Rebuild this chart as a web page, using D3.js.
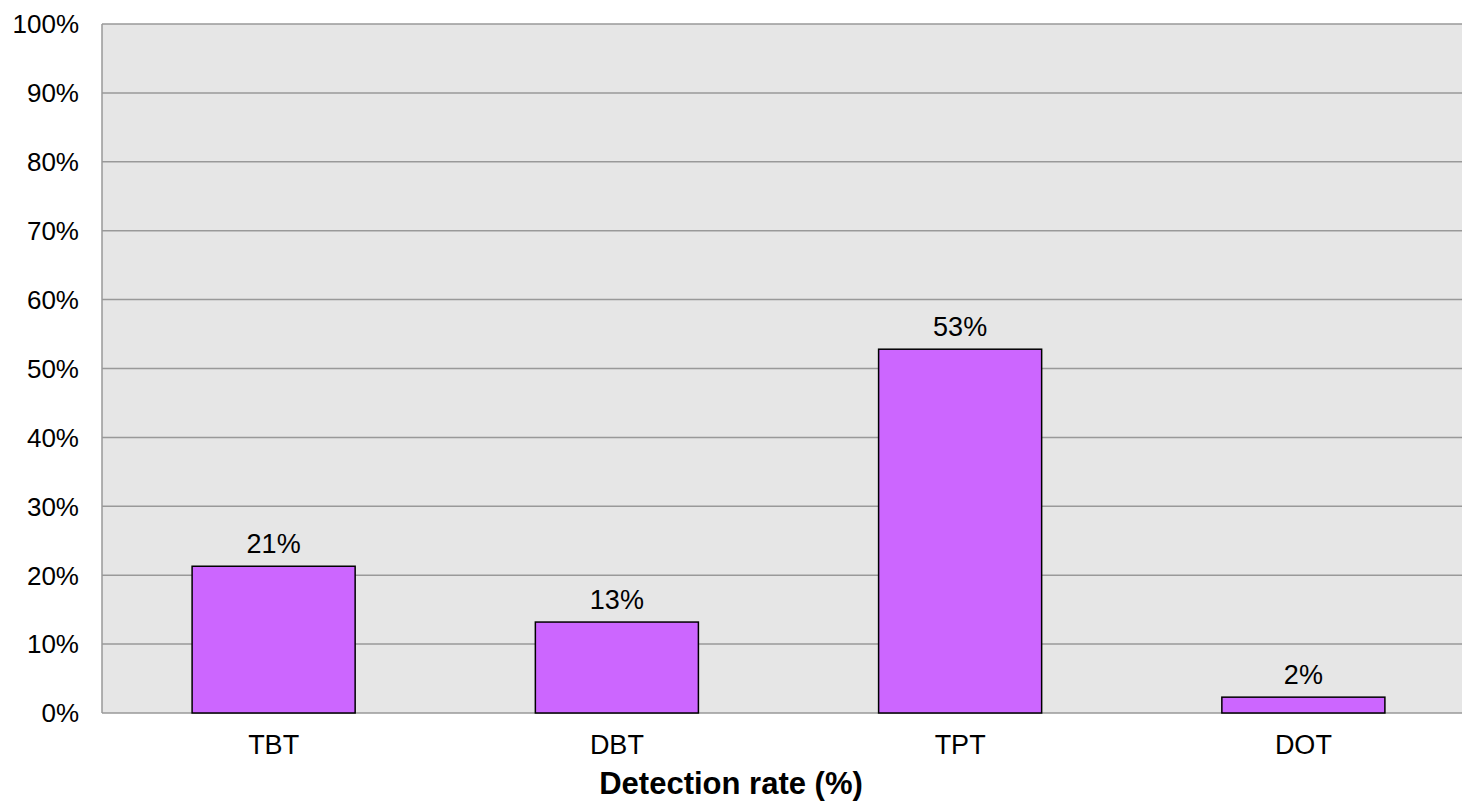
<!DOCTYPE html>
<html>
<head>
<meta charset="utf-8">
<script src="https://cdn.jsdelivr.net/npm/d3@7"></script>
<style>
  body { margin: 0; background: #fff; }
  text { font-family: "Liberation Sans", Arial, sans-serif; fill: #000; }
</style>
</head>
<body>
<div id="container"></div>
<script>
const width = 1462, height = 803;
const margin = {top: 24, right: 0, bottom: 90, left: 102};

const categories = ['TBT', 'DBT', 'TPT', 'DOT'];
const values = [21.3, 13.2, 52.8, 2.3];
const labels = ['21%', '13%', '53%', '2%'];
const yTicks = [0, 10, 20, 30, 40, 50, 60, 70, 80, 90, 100];

const svg = d3.select('#container').append('svg')
    .attr('width', width)
    .attr('height', height);

// the category band runs a bit past the right edge of the picture
const x = d3.scaleBand()
    .domain(categories)
    .range([margin.left, 1475])
    .paddingInner(0.525)
    .paddingOuter(0.2625);

const y = d3.scaleLinear()
    .domain([0, 100])
    .range([height - margin.bottom, margin.top]);

// plot background
svg.append('rect')
    .attr('x', margin.left)
    .attr('y', margin.top)
    .attr('width', width - margin.left)
    .attr('height', y(0) - margin.top)
    .attr('fill', '#e6e6e6');

// gridlines
svg.append('g')
    .selectAll('line')
    .data(yTicks)
    .join('line')
        .attr('x1', margin.left)
        .attr('x2', width)
        .attr('y1', d => y(d))
        .attr('y2', d => y(d))
        .attr('stroke', '#999')
        .attr('stroke-width', 1.5);

// left axis line
svg.append('line')
    .attr('x1', margin.left).attr('x2', margin.left)
    .attr('y1', margin.top).attr('y2', y(0))
    .attr('stroke', '#999')
    .attr('stroke-width', 1.5);

// y tick labels
svg.append('g')
    .selectAll('text')
    .data(yTicks)
    .join('text')
        .attr('x', 79)
        .attr('y', d => y(d))
        .attr('dy', '0.36em')
        .attr('text-anchor', 'end')
        .attr('font-size', 26)
        .text(d => d + '%');

const data = categories.map((c, i) => ({cat: c, v: values[i], label: labels[i]}));

svg.append('g')
    .selectAll('rect')
    .data(data)
    .join('rect')
        .attr('x', d => x(d.cat))
        .attr('y', d => y(d.v))
        .attr('width', x.bandwidth())
        .attr('height', d => y(0) - y(d.v))
        .attr('fill', '#cc66ff')
        .attr('stroke', '#000')
        .attr('stroke-width', 1.5);

// value labels
svg.append('g')
    .selectAll('text')
    .data(data)
    .join('text')
        .attr('x', d => x(d.cat) + x.bandwidth() / 2)
        .attr('y', d => y(d.v) - 13)
        .attr('text-anchor', 'middle')
        .attr('font-size', 27)
        .text(d => d.label);

// category labels
svg.append('g')
    .selectAll('text')
    .data(categories)
    .join('text')
        .attr('x', d => x(d) + x.bandwidth() / 2)
        .attr('y', y(0) + 41)
        .attr('text-anchor', 'middle')
        .attr('font-size', 27)
        .text(d => d);

// axis title
svg.append('text')
    .attr('x', width / 2)
    .attr('y', 794)
    .attr('text-anchor', 'middle')
    .attr('font-size', 31)
    .attr('font-weight', 'bold')
    .text('Detection rate (%)');
</script>
</body>
</html>
